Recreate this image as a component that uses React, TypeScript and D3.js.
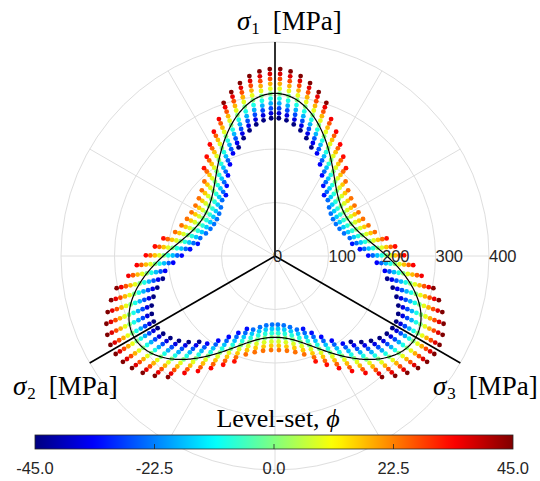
import React from 'react';
import * as d3 from 'd3';

const WIDTH = 540;
const HEIGHT = 481;

// Polar grid
const radialTicks = [0, 100, 200, 300, 400];
const spokeAnglesDeg = [0, 30, 60, 90, 120, 150, 180, 210, 240, 270, 300, 330];

// Principal stress axes in the deviatoric plane
const axisSubscripts = ['1', '2', '3'];
const axisAnglesDeg = [90, 210, 330];

// Zero level-set radius (MPa) at 0°, 30° and 60° away from a sigma-axis vertex
const lodeRadii = [304, 209, 152];

// Sample index along each ray (0 = on the zero level set)
const radialSteps = [-5, -4, -3, -2, -1, 0, 1, 2, 3, 4, 5];
// Radial step (MPa) at the vertices and at the flats
const stepAtVertex = 9.2;
const stepAtFlat = 7.9;
// Half-width of the sampled band relative to the zero level-set radius, plus a constant (MPa)
const bandRelative = 0.15;
const bandConstant = 6.5;
// Ray sampling (denser near the vertices)
const rayCount = 90;
const raySkewDeg = 3.8;

// Colour range of the level-set function
const phiDomain = [-45, 45];
const colorbarTicks = [-45, -22.5, 0, 22.5, 45];

const cx = 275;
const cy = 256;
const outerPx = 214;

const rScale = d3.scaleLinear().domain([0, 400]).range([0, outerPx]);

function jet(t: number): string {
  const c = (x: number) => Math.max(0, Math.min(1, x));
  const r = c(1.5 - Math.abs(4 * t - 3));
  const g = c(1.5 - Math.abs(4 * t - 2));
  const b = c(1.5 - Math.abs(4 * t - 1));
  return d3.rgb(r * 255, g * 255, b * 255).formatHex();
}

const color = d3.scaleSequential(jet).domain(phiDomain).clamp(true);

const rad = (deg: number) => (deg * Math.PI) / 180;

// r(psi) = a + b cos 3psi + c cos 6psi through the three radii
const [rV, rM, rF] = lodeRadii;
const fb = (rV - rF) / 2;
const fa = ((rV + rF) / 2 + rM) / 2;
const fc = ((rV + rF) / 2 - rM) / 2;

function zeroRadius(thetaDeg: number): number {
  const psi = rad(thetaDeg - 90);
  return fa + fb * Math.cos(3 * psi) + fc * Math.cos(6 * psi);
}

function polar(r: number, thetaDeg: number): [number, number] {
  const p = rScale(r);
  return [p * Math.cos(rad(thetaDeg)), -p * Math.sin(rad(thetaDeg))];
}

type Dot = { x: number; y: number; phi: number };

const rayAngles = d3.range(rayCount).map((i) => {
  const t = (i * 360) / rayCount;
  return t - raySkewDeg * Math.sin(3 * rad(t - 90));
});

const stepScale = d3.scaleLinear().domain([rF, rV]).range([stepAtFlat, stepAtVertex]);

// phi = radial distance (MPa) from the zero level set along each ray
const dots: Dot[] = [];
radialSteps.forEach((j) => {
  rayAngles.forEach((th) => {
    const r0 = zeroRadius(th);
    const off = j * stepScale(r0);
    const half = bandRelative * r0 + bandConstant;
    if (Math.abs(off) > half) return;
    const [x, y] = polar(r0 + off, th);
    dots.push({ x, y, phi: off });
  });
});

const curveAngles = d3.range(0, 360, 0.5);
const zeroLine = d3
  .lineRadial<number>()
  .angle((th) => rad(90 - th))
  .radius((th) => rScale(zeroRadius(th)))
  .curve(d3.curveLinearClosed);

const cbX0 = 35;
const cbX1 = 513;
const cbY = 435;
const cbH = 14;
const cbScale = d3.scaleLinear().domain(phiDomain).range([cbX0, cbX1]);
const gradStops = d3.range(0, 1.0001, 0.02);

const serif = '"Liberation Serif", "DejaVu Serif", serif';
const sans = '"Liberation Sans", Arial, Helvetica, sans-serif';

const axisLabelPos = [
  { x: 237, y: 30 },
  { x: 13, y: 395 },
  { x: 433, y: 395 },
];

export default function App() {
  return (
    <svg width={WIDTH} height={HEIGHT} style={{ position: 'absolute', left: 0, top: 0, background: '#fff' }}>
      <defs>
        <linearGradient id="jetGrad" x1="0" x2="1" y1="0" y2="0">
          {gradStops.map((s) => (
            <stop key={s} offset={s} stopColor={jet(s)} />
          ))}
        </linearGradient>
      </defs>
      <rect width={WIDTH} height={HEIGHT} fill="#fff" />
      <g transform={`translate(${cx},${cy})`}>
        {radialTicks.slice(1).map((t) => (
          <circle key={t} r={rScale(t)} fill="none" stroke="#dedede" strokeWidth={1} />
        ))}
        {spokeAnglesDeg.map((a) => {
          const [x, y] = polar(400, a);
          return <line key={a} x1={0} y1={0} x2={x} y2={y} stroke="#dedede" strokeWidth={1} />;
        })}
        {dots.map((d, i) => (
          <circle key={i} cx={d.x} cy={d.y} r={2.4} fill={color(d.phi)} />
        ))}
        <path d={zeroLine(curveAngles) || ''} fill="none" stroke="#000" strokeWidth={1.2} />
        {axisAnglesDeg.map((a) => {
          const [x, y] = polar(400, a);
          return <line key={a} x1={0} y1={0} x2={x} y2={y} stroke="#000" strokeWidth={1.6} />;
        })}
        {radialTicks.map((t) => (
          <text
            key={t}
            x={rScale(t) - (t === 0 ? 2 : 0)}
            y={0}
            dy="0.36em"
            fontFamily={sans}
            fontSize={16.5}
            fill="#262626"
          >
            {t}
          </text>
        ))}
      </g>
      {axisSubscripts.map((s, i) => (
        <text key={s} x={axisLabelPos[i].x} y={axisLabelPos[i].y} fontFamily={serif} fontSize={27} fill="#000">
          <tspan fontStyle="italic">σ</tspan>
          <tspan fontSize={17} dy={4} dx={1}>{s}</tspan>
          <tspan dy={-4} dx={13}>[MPa]</tspan>
        </text>
      ))}
      <text x={278} y={427} textAnchor="middle" fontFamily={serif} fontSize={26} fill="#000">
        Level-set, <tspan fontStyle="italic">ϕ</tspan>
      </text>
      <rect x={cbX0} y={cbY} width={cbX1 - cbX0} height={cbH} fill="url(#jetGrad)" stroke="#262626" strokeWidth={0.8} />
      {colorbarTicks.slice(1, -1).map((t) => (
        <line key={t} x1={cbScale(t)} x2={cbScale(t)} y1={cbY + cbH} y2={cbY + cbH - 5} stroke="#262626" strokeWidth={0.8} />
      ))}
      {colorbarTicks.map((t) => (
        <text key={t} x={cbScale(t)} y={474} textAnchor="middle" fontFamily={sans} fontSize={16.5} fill="#262626">
          {t.toFixed(1)}
        </text>
      ))}
    </svg>
  );
}
